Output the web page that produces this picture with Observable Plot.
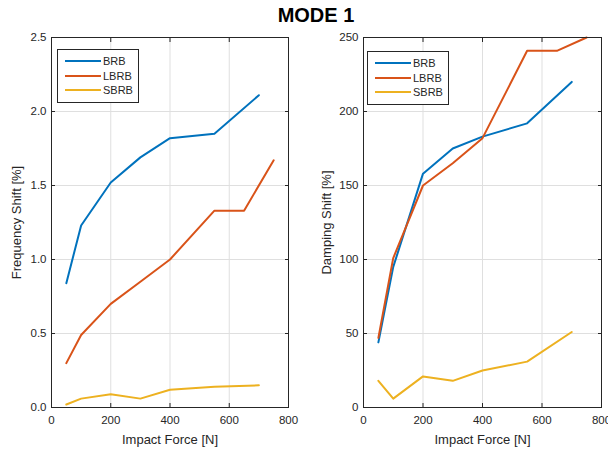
<!DOCTYPE html>
<html><head><meta charset="utf-8">
<script src="https://cdn.jsdelivr.net/npm/d3@7"></script>
<script src="https://cdn.jsdelivr.net/npm/@observablehq/plot@0.6"></script>
<style>
body{margin:0;background:#fff;}
#fig{position:relative;width:608px;height:454px;font-family:"Liberation Sans",Arial,sans-serif;}
#title{height:30px;position:relative;}
#title span{position:absolute;left:0;width:632px;text-align:center;top:4px;font-weight:bold;font-size:20px;color:#000;}
#charts{display:flex;}
.legend{position:absolute;border:1px solid #262626;background:#fff;font-size:11px;color:#262626;}
.legend div{position:relative;height:14.5px;line-height:14.5px;}
.legend i{position:absolute;left:7px;top:6px;width:36px;height:2px;}
.legend b{position:absolute;left:45px;font-weight:normal;}
</style></head>
<body>
<div id="fig">
<div id="title"><span>MODE 1</span></div>
<div id="charts"></div>
</div>
<script>
const force = [50, 100, 200, 300, 400, 550, 700];
const forceL = [50, 100, 200, 300, 400, 550, 650, 750];
const freqBRB = [0.84, 1.23, 1.52, 1.69, 1.82, 1.85, 2.11];
const freqLBRB = [0.30, 0.49, 0.70, 0.85, 1.00, 1.33, 1.33, 1.67];
const freqSBRB = [0.02, 0.06, 0.09, 0.06, 0.12, 0.14, 0.15];
const dampBRB = [44, 95, 158, 175, 183, 192, 220];
const dampLBRB = [47, 101, 150, 165, 182, 241, 241, 250];
const dampSBRB = [18, 6, 21, 18, 25, 31, 51];
const series = ["BRB", "LBRB", "SBRB"];
const colors = ["#0072BD", "#D95319", "#EDB120"];
const xTicks = [0, 200, 400, 600, 800];
const freqTicks = [0, 0.5, 1, 1.5, 2, 2.5];
const dampTicks = [0, 50, 100, 150, 200, 250];

function rows(xs, ys, name) { return xs.map((x, i) => ({x, y: ys[i], s: name})); }

function panel({data, yDomain, yTicks, yLabel, marginLeft, marginRight, yLabelOffset}) {
  const tc = "#262626";
  return Plot.plot({
    width: 304, height: 424,
    marginTop: 7, marginBottom: 47, marginLeft, marginRight,
    style: {fontFamily: '"Liberation Sans", Arial, sans-serif', fontSize: "11.5px", color: tc, background: "#fff", overflow: "visible"},
    x: {domain: [0, 800]},
    y: {domain: yDomain},
    color: {domain: series, range: colors},
    marks: [
      Plot.gridX(xTicks, {stroke: "#dfdfdf", strokeOpacity: 1}),
      Plot.gridY(yTicks, {stroke: "#dfdfdf", strokeOpacity: 1}),
      Plot.line(data, {x: "x", y: "y", z: "s", stroke: "s", strokeWidth: 2}),
      Plot.frame({stroke: tc, strokeWidth: 1}),
      Plot.axisX({ticks: xTicks, tickSize: -4, tickPadding: 12, label: null, fill: tc, stroke: tc, fontSize: 11.5}),
      Plot.axisX({ticks: xTicks, tickSize: 0, tickFormat: () => "", label: "Impact Force [N]", labelAnchor: "center", labelArrow: "none", labelOffset: 36, fill: tc, fontSize: 13}),
      Plot.axisX({ticks: xTicks, anchor: "top", tickSize: -4, tickFormat: () => "", label: null, stroke: tc}),
      Plot.axisY({ticks: yTicks, tickSize: -4, tickPadding: 9, label: null, fill: tc, stroke: tc, fontSize: 11.5}),
      Plot.axisY({ticks: yTicks, tickSize: 0, tickFormat: () => "", label: yLabel, labelAnchor: "center", labelArrow: "none", labelOffset: yLabelOffset, fill: tc, fontSize: 13}),
      Plot.axisY({ticks: yTicks, anchor: "right", tickSize: -4, tickFormat: () => "", label: null, stroke: tc})
    ]
  });
}

const freqData = [...rows(force, freqBRB, "BRB"), ...rows(forceL, freqLBRB, "LBRB"), ...rows(force, freqSBRB, "SBRB")];
const dampData = [...rows(force, dampBRB, "BRB"), ...rows(forceL, dampLBRB, "LBRB"), ...rows(force, dampSBRB, "SBRB")];

const charts = document.getElementById("charts");
charts.append(panel({data: freqData, yDomain: [0, 2.5], yTicks: freqTicks, yLabel: "Frequency Shift [%]", marginLeft: 51, marginRight: 16, yLabelOffset: 40}));
charts.append(panel({data: dampData, yDomain: [0, 250], yTicks: dampTicks, yLabel: "Damping Shift [%]", marginLeft: 59, marginRight: 7, yLabelOffset: 42}));

function legend(left, top) {
  const d = document.createElement("div");
  d.className = "legend";
  d.style.left = left + "px"; d.style.top = top + "px";
  d.style.width = "80px"; d.style.padding = "4px 0 4px 0";
  series.forEach((s, i) => {
    const r = document.createElement("div");
    r.innerHTML = `<i style="background:${colors[i]}"></i><b>${s}</b>`;
    d.append(r);
  });
  document.getElementById("fig").append(d);
}
legend(57, 49);
legend(367, 51);
</script>
</body></html>
